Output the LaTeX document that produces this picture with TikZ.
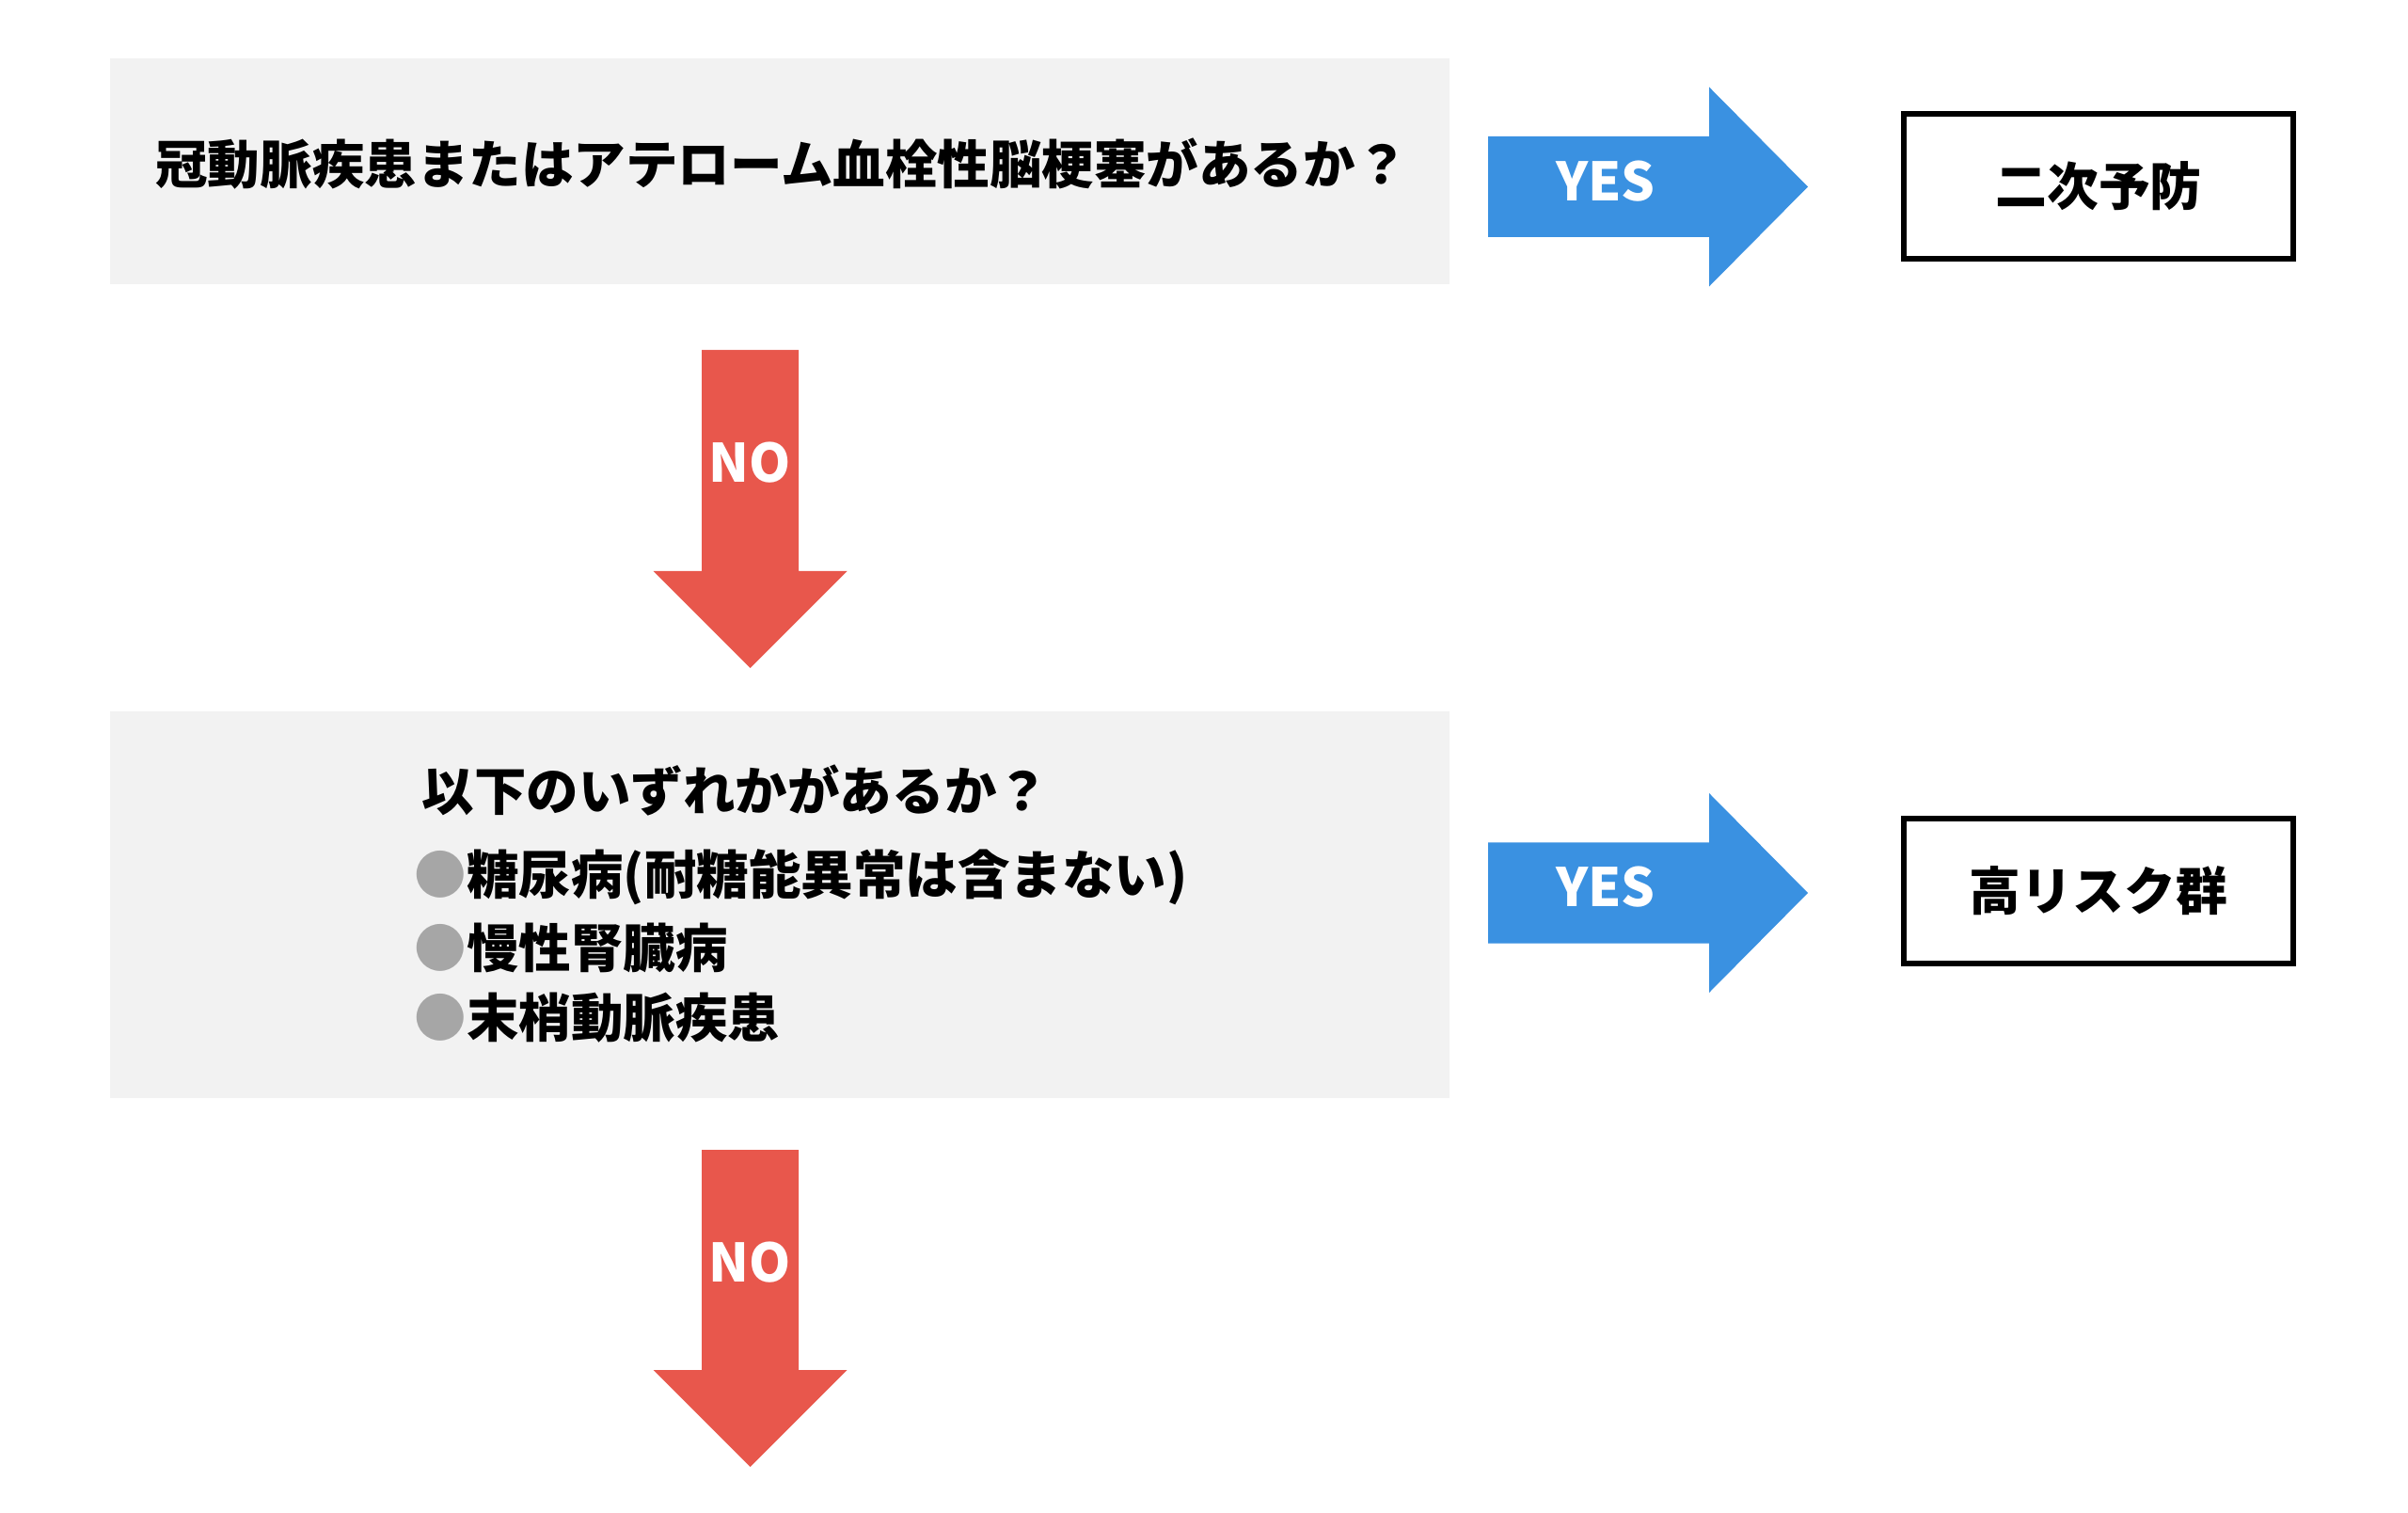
\documentclass[tikz,border=0pt]{standalone}
\usepackage{fontspec}
\setmainfont{Noto Sans CJK JP}
\definecolor{boxgray}{RGB}{242,242,242}
\definecolor{yesblue}{RGB}{58,145,225}
\definecolor{nored}{RGB}{232,87,76}
\definecolor{dotgray}{RGB}{166,166,166}
\begin{document}
\begin{tikzpicture}[
  qbox/.style={fill=boxgray, minimum width=14.24cm, inner sep=0pt},
  endbox/.style={draw=black, line width=1.7pt, minimum width=4.14cm, minimum height=1.54cm,
    font=\fontsize{15.6}{18}\selectfont\bfseries},
  itemtext/.style={anchor=west, inner sep=0pt, font=\fontsize{15.8}{18}\selectfont\bfseries},
  arrowlabel/.style={text=white, inner sep=0pt, font=\fontsize{16}{18}\selectfont\bfseries}
]
\useasboundingbox (0,0) rectangle (25.6,16.07);
% first question
\node[qbox, minimum height=2.4cm] (q1) at (8.29,14.25) {};
\node[itemtext, anchor=center] (t1) at (8.31,14.33)
  {冠動脈疾患またはアテローム血栓性脳梗塞があるか？};
\fill[yesblue] (15.82,13.55) -- (18.17,13.55) -- (18.17,13.025) -- (19.22,14.085)
  -- (18.17,15.145) -- (18.17,14.62) -- (15.82,14.62) -- cycle;
\node[arrowlabel] (yes1) at (17.07,14.14) {YES};
\node[endbox] (r1) at (22.31,14.09) {二次予防};
\fill[nored] (7.46,12.35) -- (8.49,12.35) -- (8.49,10.00) -- (9.005,10.00) -- (7.975,8.97)
  -- (6.945,10.00) -- (7.46,10.00) -- cycle;
\node[arrowlabel] (no1) at (7.975,11.15) {NO};
% second question
\node[qbox, minimum height=4.11cm] (q2) at (8.29,6.455) {};
\node[itemtext] (t2) at (4.48,7.67) {以下のいずれかがあるか？};
\node[itemtext] (i1) at (4.40,6.75) {{\color{dotgray}●}糖尿病(耐糖能異常は含まない)};
\node[itemtext] (i2) at (4.40,6.00) {{\color{dotgray}●}慢性腎臓病};
\node[itemtext] (i3) at (4.40,5.25) {{\color{dotgray}●}末梢動脈疾患};
\fill[yesblue] (15.82,6.045) -- (18.17,6.045) -- (18.17,5.52) -- (19.22,6.58)
  -- (18.17,7.64) -- (18.17,7.115) -- (15.82,7.115) -- cycle;
\node[arrowlabel] (yes2) at (17.07,6.64) {YES};
\node[endbox] (r2) at (22.31,6.60) {高リスク群};
\fill[nored] (7.46,3.85) -- (8.49,3.85) -- (8.49,1.51) -- (9.005,1.51) -- (7.975,0.48)
  -- (6.945,1.51) -- (7.46,1.51) -- cycle;
\node[arrowlabel] (no2) at (7.975,2.65) {NO};
\end{tikzpicture}
\end{document}
